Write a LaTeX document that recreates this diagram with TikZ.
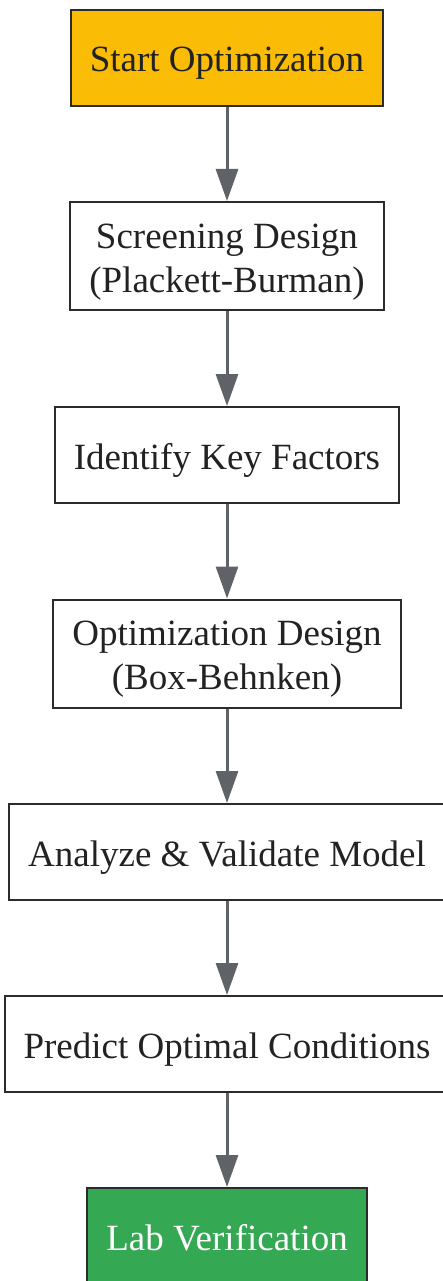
\documentclass[tikz,border=0pt]{standalone}
\usepackage{fontspec}
\setmainfont{Liberation Serif}
\usetikzlibrary{arrows.meta,positioning}
\definecolor{startorange}{HTML}{FBBC05}
\definecolor{endgreen}{HTML}{34A853}
\definecolor{arrowgray}{HTML}{5F6368}
\definecolor{boxline}{HTML}{2B2B2B}
\definecolor{textdark}{HTML}{222222}
\begin{document}
\begin{tikzpicture}[x=1pt, y=-1pt, step node/.style={rectangle,draw=boxline,line width=2pt,fill=white,text=textdark,minimum height=96pt,inner xsep=19pt,inner ysep=10pt,align=center,text height=36pt,text depth=8pt}, two lines/.style={text height=80pt}]%
\useasboundingbox (0,0) rectangle (443,1281);
\begin{scope}[every node/.style={font=\fontsize{37}{44}\selectfont}]
\node[step node, fill=startorange] (s0) at (227,58) {Start Optimization};
\node[step node, two lines] (s1) at (227,256) {Screening Design\\(Plackett-Burman)};
\node[step node] (s2) at (227,455) {Identify Key Factors};
\node[step node, two lines] (s3) at (227,653.5) {Optimization Design\\(Box-Behnken)};
\node[step node] (s4) at (227,852) {Analyze \& Validate Model};
\node[step node] (s5) at (227,1044) {Predict Optimal Conditions};
\node[step node, fill=endgreen, text=white] (s6) at (227,1236) {Lab Verification};
\end{scope}
\begin{scope}[every edge/.style={draw=arrowgray,line width=3pt,-{Triangle[length=32pt,width=22pt]}}]
\draw (s0) edge (s1);
\draw (s1) edge (s2);
\draw (s2) edge (s3);
\draw (s3) edge (s4);
\draw (s4) edge (s5);
\draw (s5) edge (s6);
\end{scope}
\end{tikzpicture}
\end{document}
